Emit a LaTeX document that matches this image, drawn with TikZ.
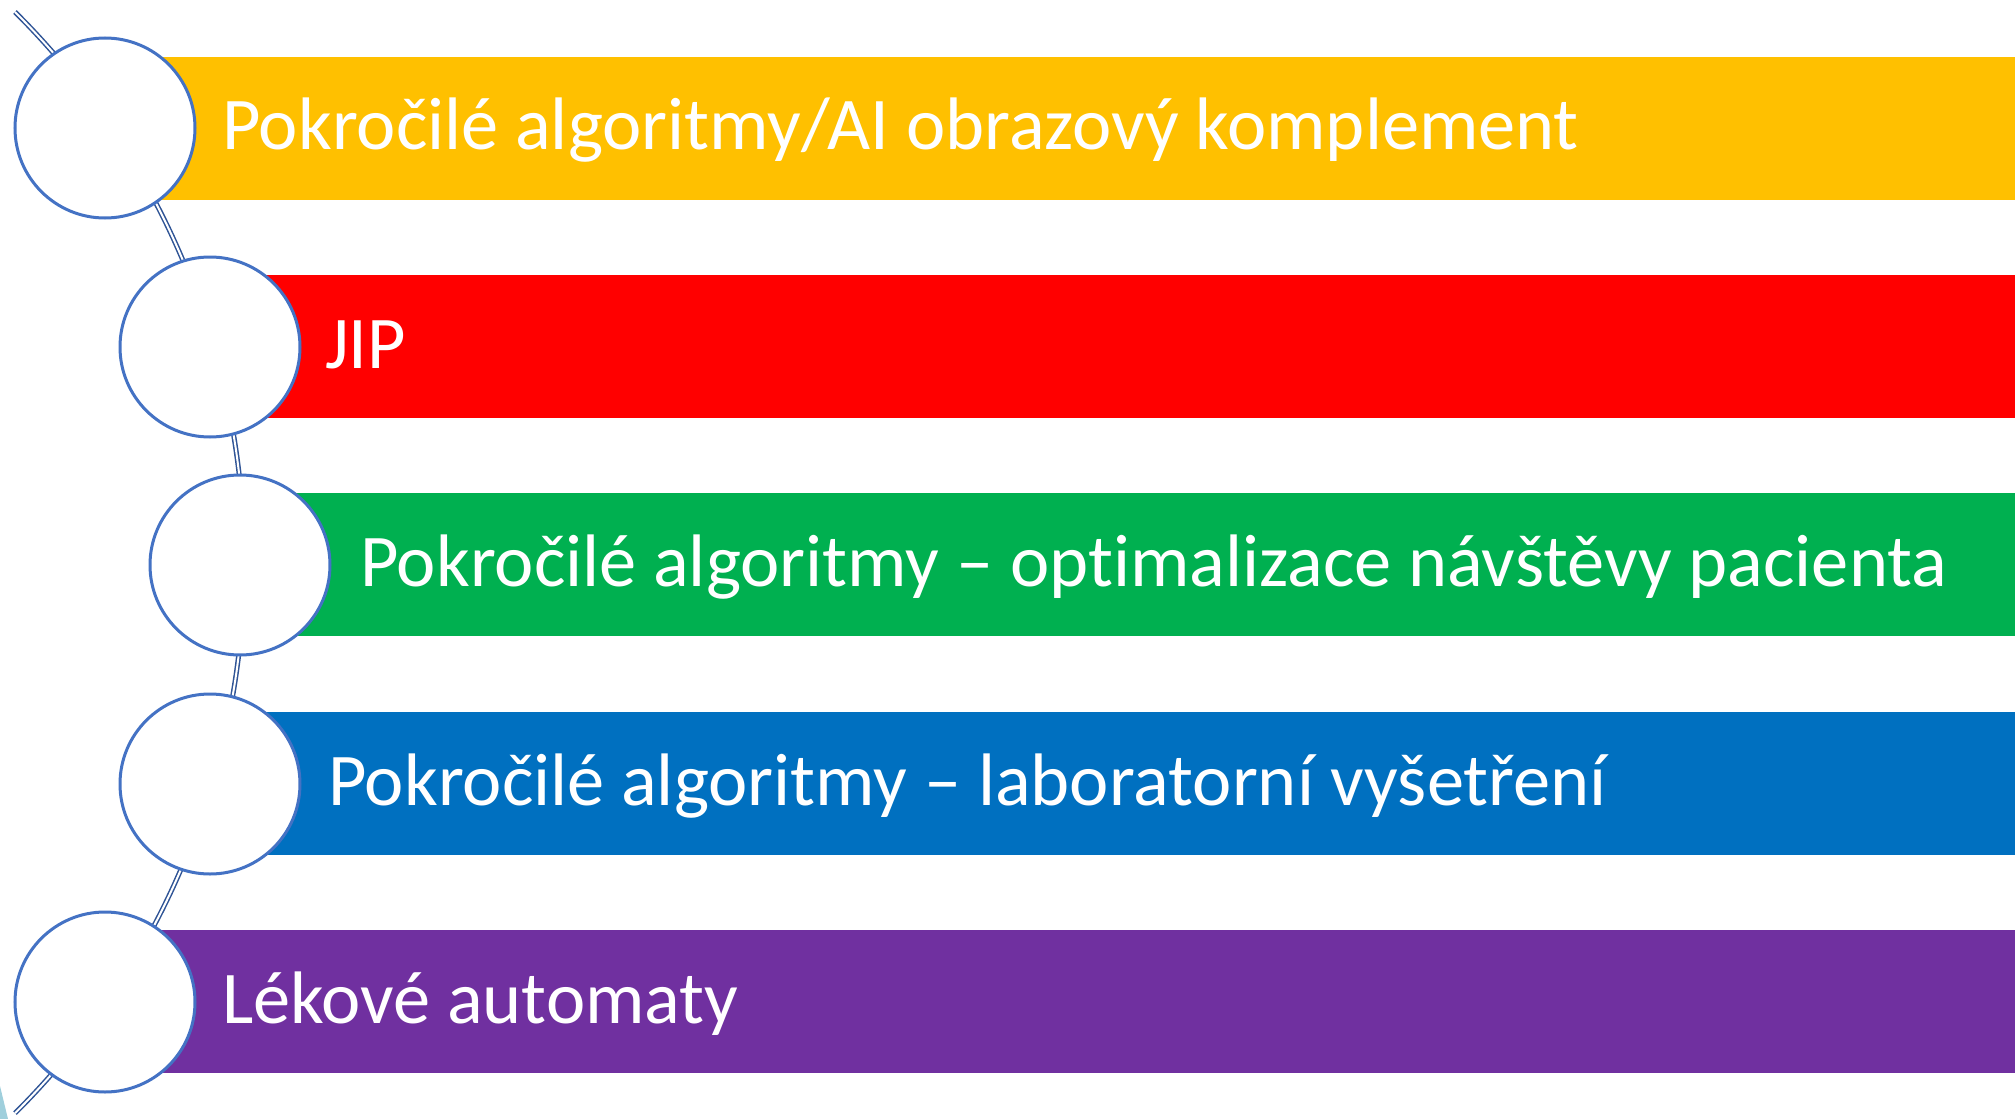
\documentclass[tikz,border=0pt]{standalone}
\usepackage{fontspec}
\setmainfont{Carlito}[Ligatures=NoCommon]
\usetikzlibrary{positioning}

\definecolor{bandYellow}{HTML}{FFC000}
\definecolor{bandRed}{HTML}{FF0000}
\definecolor{bandGreen}{HTML}{00B050}
\definecolor{bandBlue}{HTML}{0070C0}
\definecolor{bandPurple}{HTML}{7030A0}
\definecolor{ringBlue}{HTML}{4472C4}
\definecolor{chainBlue}{HTML}{2F5496}
\definecolor{cornerTeal}{HTML}{9FCFDC}

\begin{document}
\begin{tikzpicture}[
    x=0.5pt, y=-0.5pt,
    every node/.style={inner sep=0pt, outer sep=0pt},
    band/.style={rectangle, anchor=west, minimum height=71.5pt, minimum width=955pt},
    bubble/.style={circle, draw=ringBlue, line width=1.5pt, fill=white, minimum size=90pt},
    caption/.style={anchor=base west, text=white, font=\fontsize{37.2}{44}\selectfont},
    chain/.style={draw=chainBlue, line width=0.75pt, double=white, double distance=1pt}
]

\useasboundingbox (0,0) rectangle (2015,1119);
\fill[white] (0,0) rectangle (2015,1119);
\fill[cornerTeal] (0,1086) -- (8,1119) -- (0,1119) -- cycle;

% Define end points of the arc
\coordinate (arctop) at (15,12);

% Arc through the bubbles
\draw[chain] (arctop) arc[start angle=45.2, end angle=-45.2, radius=388pt];

% Coloured bands
\node[band, fill=bandYellow] (band1) at (105, 128) {};
\node[band, fill=bandRed]    (band2) at (210, 346.5) {};
\node[band, fill=bandGreen]  (band3) at (240, 564.5) {};
\node[band, fill=bandBlue]   (band4) at (210, 783.5) {};
\node[band, fill=bandPurple] (band5) at (105, 1001.5) {};

% Bubbles
\node[bubble] (bub1) at (105, 128) {};
\node[bubble] (bub2) at (210, 347) {};
\node[bubble] (bub3) at (240, 565) {};
\node[bubble] (bub4) at (210, 784) {};
\node[bubble] (bub5) at (105, 1002) {};

% Texts
\node[caption] (text1) at (222, 149) {Pokročilé algoritmy/AI obrazový komplement};
\node[caption] (text2) at (325, 368) {JIP};
\node[caption] (text3) at (360, 586) {Pokročilé algoritmy – optimalizace návštěvy pacienta};
\node[caption] (text4) at (328, 805) {Pokročilé algoritmy – laboratorní vyšetření};
\node[caption] (text5) at (222, 1023) {Lékové automaty};

\end{tikzpicture}
\end{document}
